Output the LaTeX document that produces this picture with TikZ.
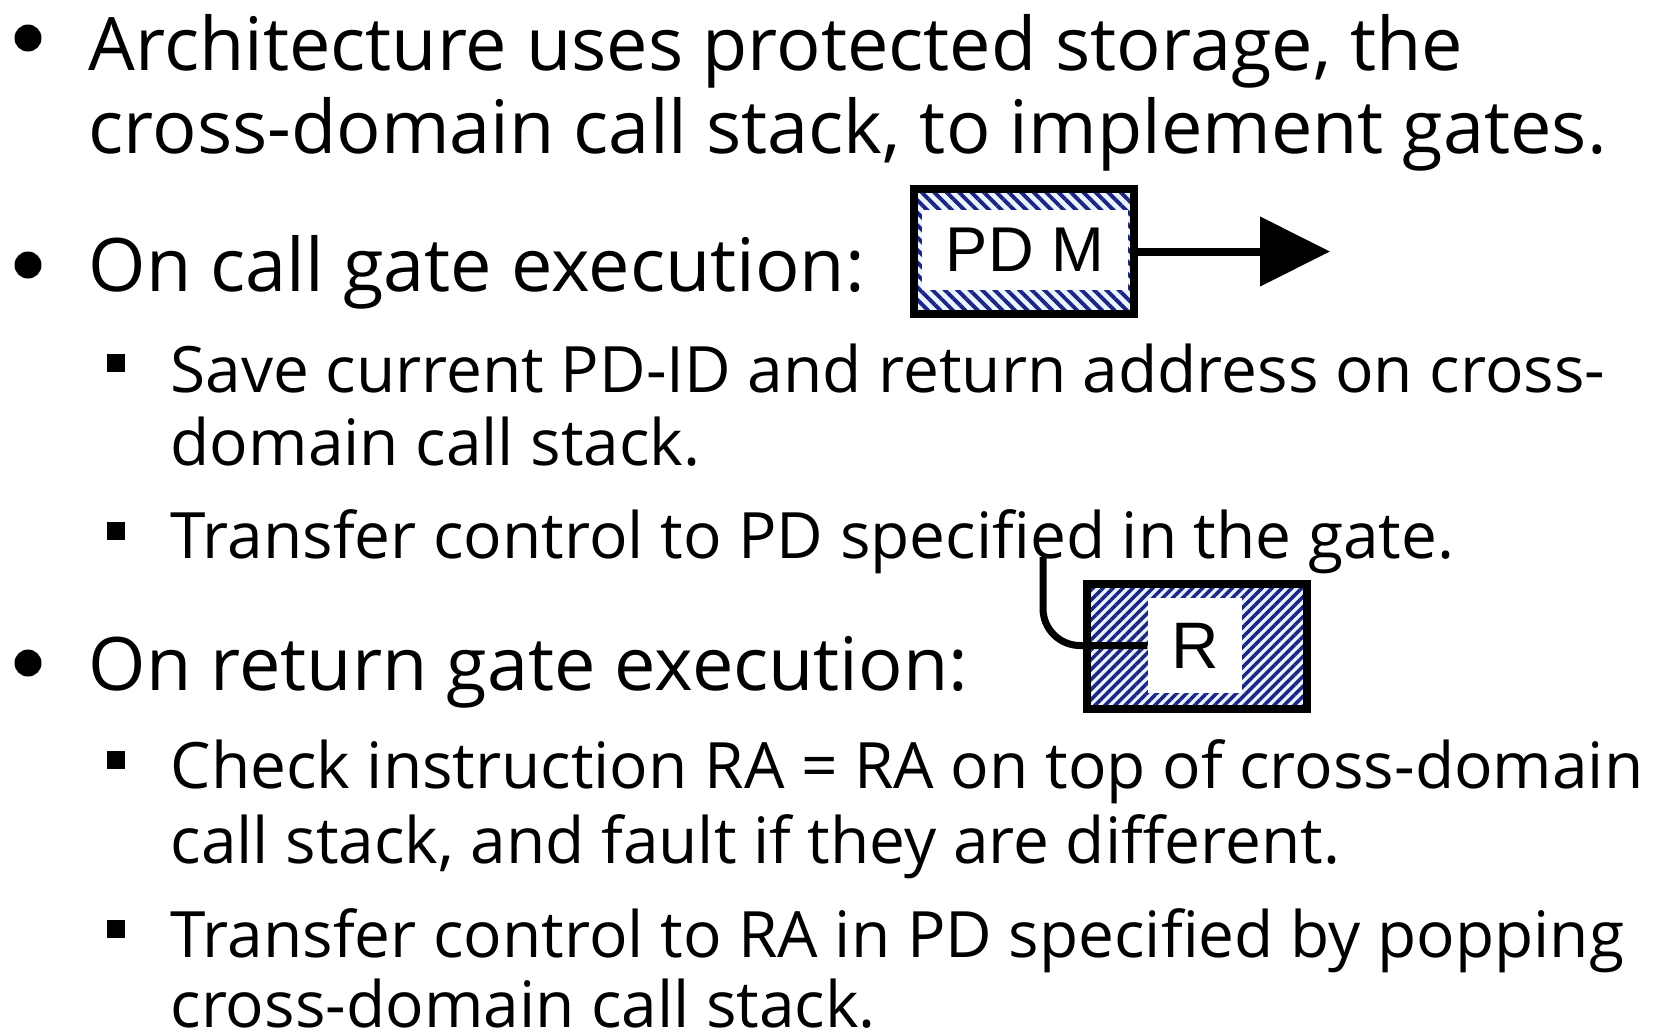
\documentclass[tikz,border=0pt]{standalone}
\usepackage{fontspec}
\setmainfont{Open Sans}
\newfontfamily\boxfont{Liberation Sans}
\usepackage{xcolor}
\usepackage{tikz}
\usetikzlibrary{arrows.meta, patterns.meta}
\definecolor{hatchnavy}{RGB}{28,38,130}
\definecolor{hatchbg}{RGB}{236,244,255}

\begin{document}
\begin{tikzpicture}[
    bodytext/.style={anchor=base west, inner sep=0pt, font=\fontsize{21}{25}\selectfont},
    subtext/.style={anchor=base west, inner sep=0pt, font=\fontsize{18.2}{22}\selectfont},
    pdbox/.style={draw, line width=0.08cm, minimum width=2.20cm, minimum height=1.25cm, inner sep=0pt, preaction={fill=hatchbg}},
    pdlabel/.style={fill=white, inner sep=0pt, font=\boxfont\fontsize{18}{20}\selectfont},
]
    \useasboundingbox (0,0) rectangle (16.54,-10.35);
    % bullets
    \foreach \y in {-0.38,-2.65,-6.63} \fill (0.28,\y) circle (0.135);
    \foreach \y in {-3.63,-5.31,-7.60,-9.29} \fill (1.07,\y+0.09) rectangle ++(0.18,-0.18);
    % text
    \node[bodytext] (arch1) at (0.88,-0.70) {Architecture uses protected storage, the};
    \node[bodytext] (arch2) at (0.88,-1.53) {cross-domain call stack, to implement gates.};
    \node[bodytext] (callhd) at (0.88,-2.91) {On call gate execution:};
    \node[subtext] (save1) at (1.70,-3.92) {Save current PD-ID and return address on cross-};
    \node[subtext] (save2) at (1.70,-4.65) {domain call stack.};
    \node[subtext] (xfer1) at (1.70,-5.58) {Transfer control to PD specified in the gate.};
    \node[bodytext] (rethd) at (0.88,-6.90) {On return gate execution:};
    \node[subtext] (check1) at (1.70,-7.88) {Check instruction RA = RA on top of cross-domain};
    \node[subtext] (check2) at (1.70,-8.63) {call stack, and fault if they are different.};
    \node[subtext] (xfer2) at (1.70,-9.57) {Transfer control to RA in PD specified by popping};
    \node[subtext] (xfer3) at (1.70,-10.27) {cross-domain call stack.};
    % gate boxes
    \node[pdbox, pattern={Lines[angle=-45, distance=2.5pt, line width=1.1pt]}, pattern color=hatchnavy] (pdm) at (10.24,-2.515) {};
    \node[pdlabel, minimum width=2.06cm, minimum height=0.80cm] (pdmtxt) at (10.25,-2.50) {PD M};
    \node[pdbox, pattern={Lines[angle=45, distance=2pt, line width=1pt]}, pattern color=hatchnavy] (rbox) at (11.97,-6.465) {};
    \node[pdlabel, minimum width=0.94cm, minimum height=0.95cm, font=\boxfont\fontsize{18.7}{20}\selectfont] (rtxt) at (11.95,-6.455) {R};
    % links
    \coordinate (pdend) at (13.30,-2.515);
    \coordinate (fhook) at (10.43,-5.57);
    \draw[line width=0.08cm, -{Triangle[length=0.70cm, width=0.68cm]}] (pdm.east) -- (pdend);
    \draw[line width=0.07cm, rounded corners=0.37cm] (fhook) |- (rtxt.west);
\end{tikzpicture}
\end{document}
